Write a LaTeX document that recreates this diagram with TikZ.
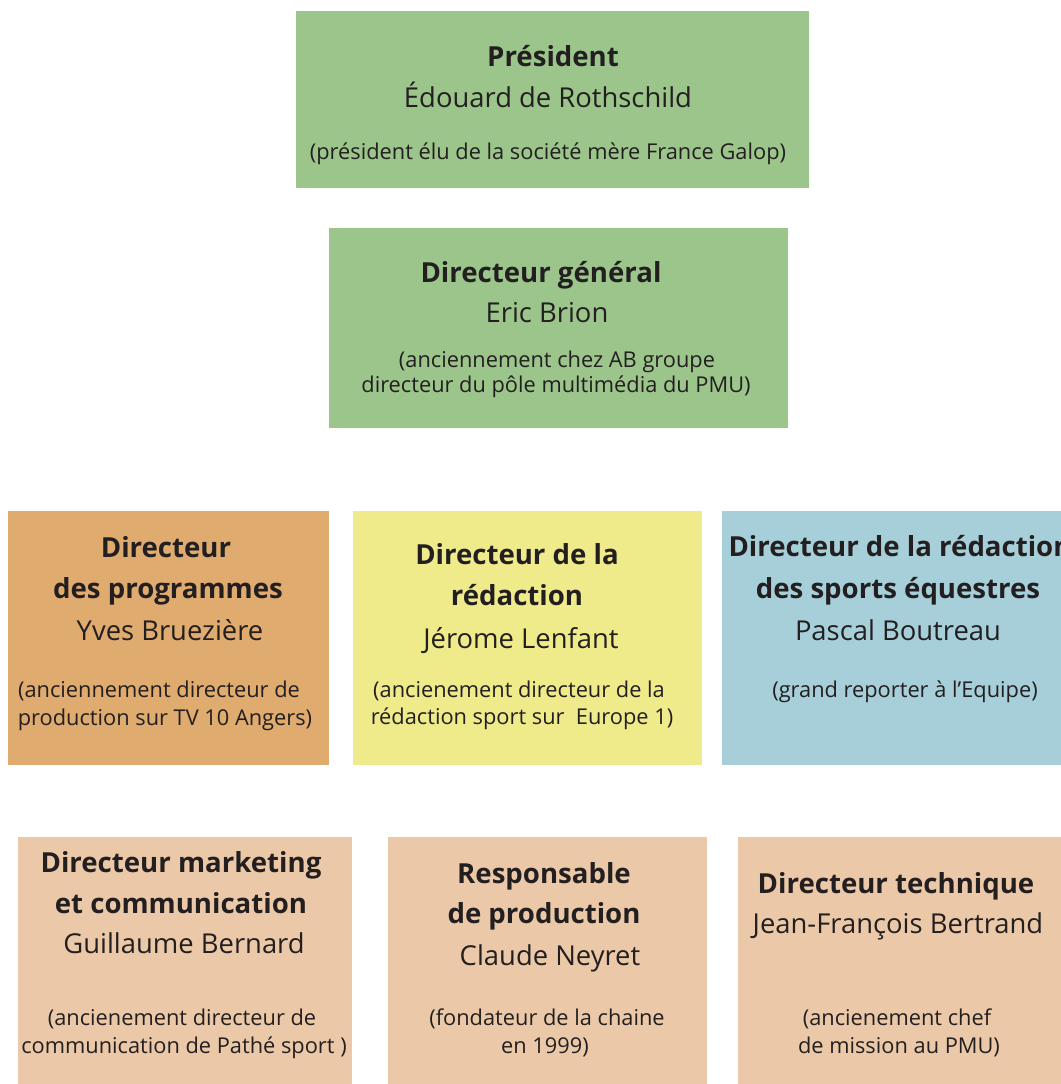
\documentclass[tikz,border=0pt]{standalone}
\usepackage{fontspec}
\setmainfont{Open Sans}
\definecolor{boxgreen}{HTML}{9BC58B}
\definecolor{boxorange}{HTML}{DFAB6E}
\definecolor{boxyellow}{HTML}{EFEA8A}
\definecolor{boxblue}{HTML}{A6CFD9}
\definecolor{boxpeach}{HTML}{EBC9A8}
\definecolor{ink}{HTML}{231F20}
\begin{document}
\begin{tikzpicture}[x=0.5pt,y=-0.5pt,
    box/.style={fill=#1,draw=none,inner sep=0pt},
    role/.style={anchor=base,inner sep=0pt,text=ink,font=\fontsize{13.8}{16}\selectfont\bfseries},
    person/.style={anchor=base,inner sep=0pt,text=ink,font=\fontsize{13.7}{16}\selectfont},
    remark/.style={anchor=base,inner sep=0pt,text=ink,font=\fontsize{10.9}{12}\selectfont}]
        \useasboundingbox (0,0) rectangle (1061,1084);

        \node[box=boxgreen,minimum width=256.5pt,minimum height=88.5pt] (pres) at (552.5, 99.5) {};
        \node[role] (pres-r) at (553, 66) {Président};
        \node[person] (pres-p) at (548, 107) {Édouard de Rothschild};
        \node[remark] (pres-c) at (548, 159) {(président élu de la société mère France Galop)};

        \node[box=boxgreen,minimum width=229.5pt,minimum height=100pt] (dg) at (558.5, 328) {};
        \node[role] (dg-r) at (541, 282) {Directeur général};
        \node[person] (dg-p) at (547, 322) {Eric Brion};
        \node[remark] (dg-c1) at (557, 367) {(anciennement chez AB groupe};
        \node[remark] (dg-c2) at (556, 392) {directeur du pôle multimédia du PMU)};

        \node[box=boxorange,minimum width=160.5pt,minimum height=127pt] (prog) at (168.5, 638) {};
        \node[role] (prog-r1) at (166, 557) {Directeur};
        \node[role] (prog-r2) at (168, 598) {des programmes};
        \node[person] (prog-p) at (170, 640) {Yves Bruezière};
        \node[remark] (prog-c1) at (159, 697) {(anciennement directeur de};
        \node[remark] (prog-c2) at (165, 725) {production sur TV 10 Angers)};

        \node[box=boxyellow,minimum width=174.5pt,minimum height=127pt] (redac) at (527.5, 638) {};
        \node[role] (redac-r1) at (517, 564) {Directeur de la};
        \node[role] (redac-r2) at (517, 605) {rédaction};
        \node[person] (redac-p) at (521, 648) {Jérome Lenfant};
        \node[remark] (redac-c1) at (519, 697) {(ancienement directeur de la};
        \node[remark] (redac-c2) at (522, 724) {rédaction sport sur~~Europe 1)};

        \node[box=boxblue,minimum width=176pt,minimum height=127pt] (equest) at (898, 638) {};
        \node[role] (equest-r1) at (900, 556) {Directeur de la rédaction};
        \node[role] (equest-r2) at (898, 598) {des sports équestres};
        \node[person] (equest-p) at (898, 640) {Pascal Boutreau};
        \node[remark] (equest-c) at (905, 697) {(grand reporter à l’Equipe)};

        \node[box=boxpeach,minimum width=167pt,minimum height=131.5pt] (mkt) at (185, 968.5) {};
        \node[role] (mkt-r1) at (181, 872) {Directeur marketing};
        \node[role] (mkt-r2) at (181, 913) {et communication};
        \node[person] (mkt-p) at (184, 953) {Guillaume Bernard};
        \node[remark] (mkt-c1) at (182, 1025) {(ancienement directeur de};
        \node[remark] (mkt-c2) at (184, 1053) {communication de Pathé sport )};

        \node[box=boxpeach,minimum width=159.5pt,minimum height=131.5pt] (prod) at (547.5, 968.5) {};
        \node[role] (prod-r1) at (544, 883) {Responsable};
        \node[role] (prod-r2) at (544, 923) {de production};
        \node[person] (prod-p) at (550, 965) {Claude Neyret};
        \node[remark] (prod-c1) at (547, 1025) {(fondateur de la chaine};
        \node[remark] (prod-c2) at (545, 1053) {en 1999)};

        \node[box=boxpeach,minimum width=166pt,minimum height=131.5pt] (tech) at (904, 968.5) {};
        \node[role] (tech-r) at (896, 893) {Directeur technique};
        \node[person] (tech-p) at (898, 933) {Jean-François Bertrand};
        \node[remark] (tech-c1) at (897, 1025) {(ancienement chef};
        \node[remark] (tech-c2) at (899, 1053) {de mission au PMU)};
\end{tikzpicture}
\end{document}
